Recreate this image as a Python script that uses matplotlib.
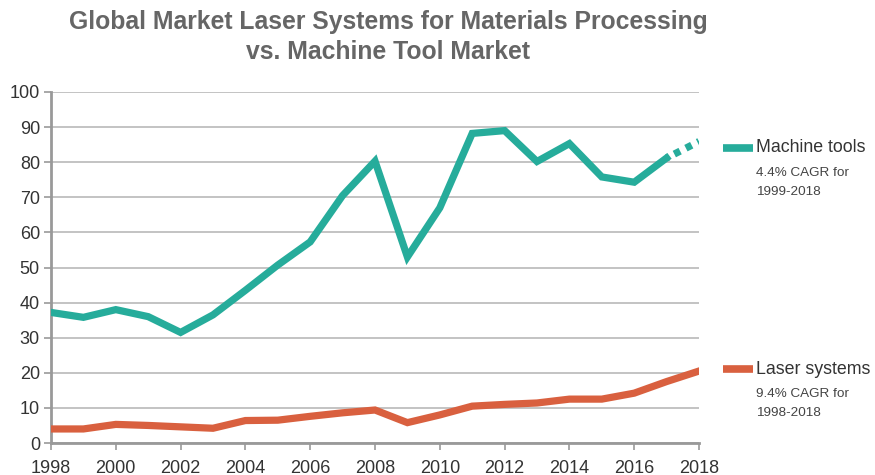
import matplotlib
matplotlib.use("Agg")
import matplotlib.pyplot as plt

years = list(range(1998, 2019))
machine_tools = [37.2, 35.8, 38.0, 36.0, 31.5, 36.5, 43.5, 50.7, 57.3, 70.5, 80.3, 53.0, 67.0,
                 88.2, 89.0, 80.2, 85.3, 75.8, 74.3, 81.2, 85.9]
laser_systems = [4.0, 4.0, 5.3, 5.0, 4.6, 4.2, 6.4, 6.5, 7.6, 8.6, 9.4, 5.8, 8.0,
                 10.5, 11.0, 11.4, 12.5, 12.5, 14.2, 17.5, 20.5]
x_ticks = list(range(1998, 2019, 2))
y_ticks = list(range(0, 101, 10))

title = "Global Market Laser Systems for Materials Processing\nvs. Machine Tool Market"
mt_label, mt_note = "Machine tools", ["4.4% CAGR for", "1999-2018"]
ls_label, ls_note = "Laser systems", ["9.4% CAGR for", "1998-2018"]

teal = "#26ac9b"
orange = "#d9603f"
grid_c = "#b3b3b3"
spine_c = "#999999"

plt.rcParams['font.family'] = ['Liberation Sans', 'DejaVu Sans']

fig = plt.figure(figsize=(8.75, 4.75), dpi=100)
ax = fig.add_axes([51/875, 1-443/475, (699-51)/875, (443-92)/475])

# machine tools: solid up to 2017, dotted 2017-2018
ax.plot(years[:-1], machine_tools[:-1], color=teal, lw=5.2, solid_joinstyle='miter', zorder=3)
ax.plot(years[-2:], machine_tools[-2:], color=teal, lw=5.2, linestyle=(0.6, (0.9, 0.9)),
        dash_capstyle='butt', zorder=3)
ax.plot(years, laser_systems, color=orange, lw=5.2, solid_joinstyle='miter', zorder=3)

ax.set_xlim(1998, 2018)
ax.set_ylim(0, 100)
ax.set_xticks(x_ticks)
ax.set_yticks(y_ticks)
ax.yaxis.grid(True, color=grid_c, lw=1.1)
ax.set_axisbelow(True)
for s in ['top', 'right']:
    ax.spines[s].set_visible(False)
for s in ['left', 'bottom']:
    ax.spines[s].set_color(spine_c)
    ax.spines[s].set_linewidth(2)
ax.tick_params(axis='both', colors=spine_c, labelcolor='#333333', labelsize=13,
               length=5, width=1.2)
ax.tick_params(axis='x', pad=7)
ax.tick_params(axis='y', pad=3)

fig.text(388/875, 1-37/475, title, ha='center', va='center', fontsize=17.8,
         fontweight='bold', color='#666666', linespacing=1.33)

def legend_entry(y_px, color, label, note):
    fig.add_artist(plt.Line2D([723/875, 753/875], [1-y_px/475]*2, color=color, lw=5.5,
                              solid_capstyle='butt'))
    fig.text(756/875, 1-y_px/475, label, ha='left', va='center', fontsize=12.8, color='#333333')
    for i, line in enumerate(note):
        fig.text(756/875, 1-(y_px + 25 + 19*i)/475, line, ha='left', va='center',
                 fontsize=9.7, color='#444444')

legend_entry(148, teal, mt_label, mt_note)
legend_entry(369, orange, ls_label, ls_note)

fig.savefig("out.png", dpi=100)
